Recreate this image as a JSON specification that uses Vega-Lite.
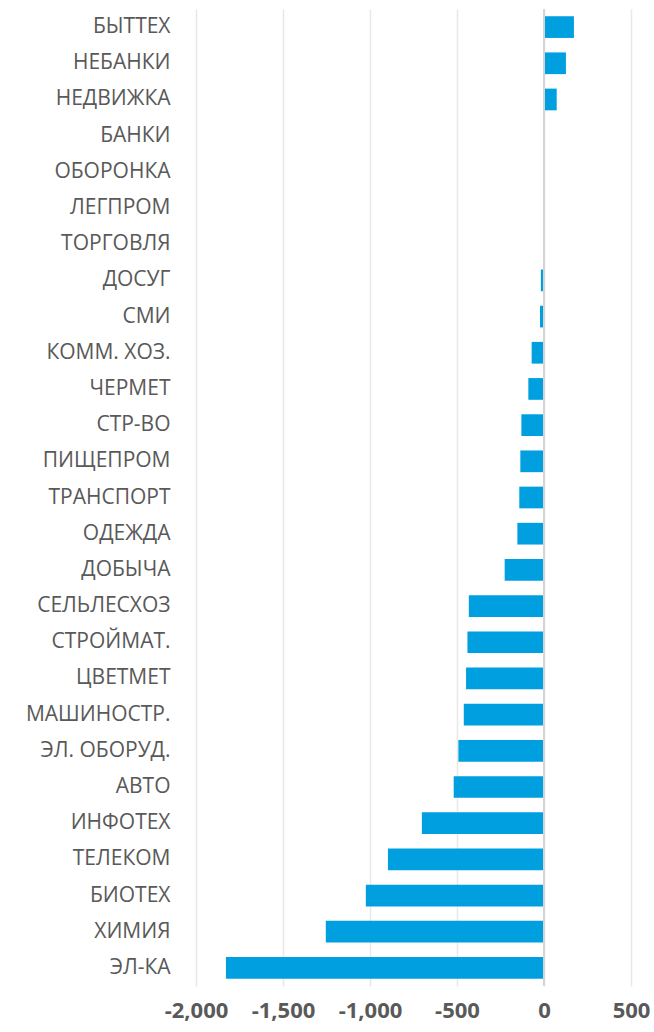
{
  "$schema": "https://vega.github.io/schema/vega-lite/v6.json",
  "autosize": {"type": "none"},
  "padding": {"left": 196, "top": 9, "right": 23, "bottom": 46},
  "width": 435,
  "height": 977,
  "background": "#ffffff",
  "config": {"view": {"stroke": null}, "font": "Open Sans"},
  "data": {
    "values": [
      {"sector": "БЫТТЕХ", "value": 172},
      {"sector": "НЕБАНКИ", "value": 126},
      {"sector": "НЕДВИЖКА", "value": 73},
      {"sector": "БАНКИ", "value": 0},
      {"sector": "ОБОРОНКА", "value": 0},
      {"sector": "ЛЕГПРОМ", "value": -3},
      {"sector": "ТОРГОВЛЯ", "value": -5},
      {"sector": "ДОСУГ", "value": -18},
      {"sector": "СМИ", "value": -23},
      {"sector": "КОММ. ХОЗ.", "value": -71},
      {"sector": "ЧЕРМЕТ", "value": -90},
      {"sector": "СТР-ВО", "value": -130},
      {"sector": "ПИЩЕПРОМ", "value": -136},
      {"sector": "ТРАНСПОРТ", "value": -142},
      {"sector": "ОДЕЖДА", "value": -153},
      {"sector": "ДОБЫЧА", "value": -226},
      {"sector": "СЕЛЬЛЕСХОЗ", "value": -432},
      {"sector": "СТРОЙМАТ.", "value": -440},
      {"sector": "ЦВЕТМЕТ", "value": -448},
      {"sector": "МАШИНОСТР.", "value": -461},
      {"sector": "ЭЛ. ОБОРУД.", "value": -492},
      {"sector": "АВТО", "value": -519},
      {"sector": "ИНФОТЕХ", "value": -702},
      {"sector": "ТЕЛЕКОМ", "value": -897},
      {"sector": "БИОТЕХ", "value": -1024},
      {"sector": "ХИМИЯ", "value": -1254},
      {"sector": "ЭЛ-КА", "value": -1828}
    ]
  },
  "layer": [
    {
      "mark": {"type": "bar", "color": "#009FDF"},
      "encoding": {
        "y": {
          "field": "sector",
          "type": "nominal",
          "sort": null,
          "scale": {"paddingInner": 0.4, "paddingOuter": 0.2},
          "axis": {
            "title": null,
            "domain": false,
            "ticks": false,
            "labelPadding": 26,
            "labelFontSize": 21,
            "labelColor": "#595959",
            "labelLimit": 300
          }
        },
        "x": {
          "field": "value",
          "type": "quantitative",
          "scale": {"domain": [-2000, 500], "nice": false},
          "axis": {
            "title": null,
            "values": [-2000, -1500, -1000, -500, 0, 500],
            "labelExpr": "datum.value < 0 ? '-' + format(-datum.value, ',') : format(datum.value, ',')",
            "labelFlush": false,
            "labelOverlap": false,
            "domain": false,
            "ticks": false,
            "labelPadding": 14,
            "labelFontSize": 22,
            "labelFontWeight": 700,
            "labelColor": "#595959",
            "gridColor": "#e8e8e8",
            "gridWidth": 1.5
          }
        }
      }
    },
    {
      "data": {"values": [{"zero": 0}]},
      "mark": {"type": "rule", "color": "#d4d4d4", "strokeWidth": 2},
      "encoding": {"x": {"field": "zero", "type": "quantitative"}}
    }
  ]
}
